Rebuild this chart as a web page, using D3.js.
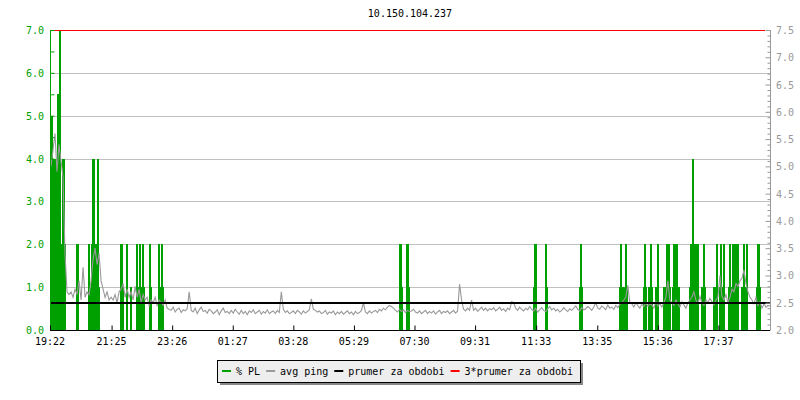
<!DOCTYPE html>
<html>
<head>
<meta charset="utf-8">
<script src="https://cdn.jsdelivr.net/npm/d3@7"></script>
<style>
  html, body { margin: 0; padding: 0; background: #fff; }
  svg { display: block; }
  text { font-family: "DejaVu Sans Mono", monospace; font-size: 10px; }
</style>
</head>
<body>
<svg id="chart" width="800" height="400"></svg>
<script>
// ---------------- DATA ----------------
const title = "10.150.104.237";
const startClock = "19:22";
const timeLabels = ["19:22","21:25","23:26","01:27","03:28","05:29","07:30","09:31","11:33","13:35","15:36","17:37"];
const leftTicks = [0,1,2,3,4,5,6,7];
const rightTicks = [2.0,2.5,3.0,3.5,4.0,4.5,5.0,5.5,6.0,6.5,7.0,7.5];
const legendLabels = ["% PL","avg ping","prumer za obdobi","3*prumer za obdobi"];

// packet loss (%), minutes from start
const plMinutes = [0,2,4,6,8,10,12,14,16,18,20,22,24,26,28,
  52,54,
  76,78,80,82,84,86,88,90,92,94,96,
  140,142,144,152,160,172,174,178,180,184,186,198,200,216,218,222,224,
  698,700,702,712,714,716,
  966,968,970,990,992,1058,1060,1062,
  1138,1140,1142,1146,1148,1150,1152,
  1186,1188,1190,1196,1198,1200,1202,1210,1212,1214,
  1226,1228,1230,1232,1234,1236,1238,
  1244,1246,1248,1250,1252,1254,1256,
  1278,1280,1282,1284,1286,1288,1290,1292,1294,
  1302,1304,1306,1308,
  1326,1328,1332,1338,1340,1342,1344,1346,
  1356,1358,1360,1362,1364,1366,1368,1370,1372,1374,
  1382,1384,1386,1388,1390,1392,
  1412,1414,1416,1418];
const plValues = [5,5,4,3.5,4,3,4,5.5,5.5,7,2,2,4,4,2,
  2,2,
  2,1,1,2,4,4,1,2,1,4,1,
  2,2,1,2,1,2,1,2,1,2,1,2,1,2,1,2,1,
  2,2,1,2,2,1,
  1,2,2,2,1,1,2,1,
  1,2,1,1,1,2,1,
  1,2,1,1,1,2,1,1,1,2,
  1,1,1,2,1,2,1,
  1,2,1,2,2,1,1,
  1,2,2,4,2,1,2,1,2,
  1,1,2,1,
  1,1,2,1,2,1,1,2,
  1,2,1,1,2,2,1,2,1,2,
  1,1,2,1,1,2,
  1,2,2,1];
const plStep = 4;

// avg ping (ms), one value every 4 minutes from start
const pingStep = 4;
const pingValues = [
  5.0,5.3,5.6,4.9,5.4,5.1,4.8,3.4,2.7,2.65,
  2.7,2.6,2.75,2.65,2.9,2.55,3.15,2.6,2.7,2.65,
  2.9,3.3,3.5,3.2,3.4,2.9,2.75,2.6,2.7,2.55,
  2.6,2.55,2.65,2.5,2.7,2.75,2.85,2.6,2.75,2.6,
  2.7,2.55,2.8,2.6,2.75,2.5,2.65,2.55,2.6,2.45,
  2.55,2.5,2.6,2.45,2.55,2.5,2.45,2.55,2.4,2.38,
  2.36,2.42,2.33,2.38,2.4,2.32,2.37,2.35,2.39,2.7,
  2.36,2.33,2.4,2.3,2.37,2.42,2.34,2.36,2.31,2.38,
  2.35,2.3,2.33,2.37,2.28,2.35,2.4,2.32,2.34,2.3,
  2.36,2.31,2.38,2.33,2.29,2.36,2.3,2.34,2.28,2.35,
  2.32,2.37,2.3,2.33,2.36,2.29,2.34,2.31,2.37,2.3,
  2.33,2.35,2.3,2.36,2.32,2.7,2.38,2.32,2.35,2.3,
  2.32,2.35,2.3,2.36,2.33,2.29,2.35,2.31,2.34,2.37,
  2.57,2.38,2.36,2.33,2.35,2.3,2.32,2.36,2.29,2.33,
  2.31,2.35,2.28,2.33,2.3,2.34,2.29,2.32,2.35,2.3,
  2.33,2.28,2.34,2.3,2.32,2.36,2.5,2.33,2.3,2.35,
  2.31,2.34,2.36,2.32,2.38,2.35,2.4,2.37,2.42,2.45,
  2.43,2.4,2.36,2.33,2.38,2.34,2.37,2.32,2.36,2.34,
  2.35,2.38,2.33,2.31,2.35,2.3,2.33,2.36,2.3,2.34,
  2.31,2.35,2.29,2.33,2.36,2.3,2.34,2.32,2.35,2.3,
  2.33,2.36,2.31,2.35,2.84,2.55,2.38,2.35,2.4,2.36,
  2.55,2.36,2.4,2.34,2.38,2.42,2.36,2.4,2.35,2.39,
  2.37,2.41,2.35,2.38,2.42,2.36,2.39,2.34,2.4,2.37,
  2.52,2.5,2.4,2.36,2.42,2.38,2.35,2.4,2.37,2.43,
  2.38,2.35,2.4,2.33,2.37,2.41,2.36,2.34,2.39,2.43,
  2.37,2.4,2.35,2.38,2.33,2.36,2.41,2.37,2.34,2.39,
  2.36,2.4,2.44,2.38,2.35,2.41,2.37,2.39,2.43,2.4,
  2.36,2.42,2.5,2.4,2.38,2.44,2.41,2.37,2.46,2.4,
  2.42,2.38,2.45,2.41,2.47,2.5,2.55,2.6,2.82,2.5,
  2.48,2.42,2.5,2.45,2.4,2.47,2.43,2.5,2.44,2.48,
  2.46,2.4,2.52,2.44,2.48,2.42,2.5,2.6,2.9,2.55,
  2.5,2.45,2.55,2.48,2.42,2.52,2.46,2.4,2.5,2.55,
  2.6,2.7,2.55,2.48,2.62,2.5,2.45,2.55,2.5,2.58,
  2.52,2.46,2.55,2.6,3.0,2.62,2.55,2.65,2.5,2.6,
  2.75,2.7,2.85,2.8,2.9,2.95,3.1,2.85,2.7,2.6,
  2.55,2.48,2.6,2.45,2.52,2.4,2.48,2.42,2.45,2.44
];
const avgPing = 2.5;
const totalMinutes = 1438;

// ---------------- CHART ----------------
const svg = d3.select("#chart");
const L = 50, R = 770, T = 30, B = 330;
const green = "#00a000";

const x = d3.scaleLinear().domain([0, totalMinutes]).range([L, R]);
const yL = d3.scaleLinear().domain([0, 7]).range([B, T]);
const yR = d3.scaleLinear().domain([2, 7.5]).range([B, T]);

const toMin = s => { const [h, m] = s.split(":").map(Number); return h * 60 + m; };
const start = toMin(startClock);
const offset = s => (toMin(s) - start + 1440) % 1440;

// title
svg.append("text").attr("x", (L + R) / 2).attr("y", 17)
  .attr("text-anchor", "middle").attr("fill", "#000").text(title);

// grid
svg.append("g").selectAll("line").data(leftTicks.filter(d => d > 0 && d < 7)).join("line")
  .attr("x1", L).attr("x2", R)
  .attr("y1", d => Math.round(yL(d)) + 0.5).attr("y2", d => Math.round(yL(d)) + 0.5)
  .attr("stroke", "#c0c0c0").attr("stroke-width", 1);

// PL bars
svg.append("g").attr("shape-rendering", "crispEdges").selectAll("rect")
  .data(plMinutes.map((t, i) => ({ t, v: plValues[i] }))).join("rect")
  .attr("x", d => Math.floor(x(d.t)))
  .attr("width", d => Math.round(x(d.t + plStep) - x(d.t)))
  .attr("y", d => Math.round(yL(d.v)))
  .attr("height", d => B - Math.round(yL(d.v)))
  .attr("fill", green);

// ping line
const pingData = pingValues.map((v, i) => ({ t: i * pingStep, v }));
svg.append("path").datum(pingData)
  .attr("d", d3.line().x(d => x(d.t) + 1).y(d => yR(d.v)))
  .attr("fill", "none").attr("stroke", "#999").attr("stroke-width", 1.1);

// average lines
svg.append("line").attr("x1", L).attr("x2", R)
  .attr("y1", Math.round(yR(avgPing))).attr("y2", Math.round(yR(avgPing)))
  .attr("stroke", "#000").attr("stroke-width", 2).attr("shape-rendering", "crispEdges");
svg.append("line").attr("x1", L).attr("x2", R - 5)
  .attr("y1", Math.round(yR(avgPing * 3)) + 0.5).attr("y2", Math.round(yR(avgPing * 3)) + 0.5)
  .attr("stroke", "#f00").attr("stroke-width", 1);

// left axis
const leftAxis = d3.axisRight(yL).tickValues(d3.range(0, 7.01, 0.5)).tickSize(4)
  .tickFormat("");
const gl = svg.append("g").attr("transform", `translate(${L + 0.5},0)`).call(leftAxis);
gl.select(".domain").attr("stroke", green).attr("d", `M0,${T}V${B}`);
gl.selectAll(".tick line").attr("stroke", green);
svg.append("g").selectAll("text").data(leftTicks).join("text")
  .attr("x", 44).attr("y", d => yL(d) + 4)
  .attr("text-anchor", "end").attr("fill", green).text(d => d.toFixed(1));

// right axis
const rightAxis = d3.axisLeft(yR).tickValues(d3.range(20, 76, 1).map(d => d / 10))
  .tickSize(3).tickFormat("");
const gr = svg.append("g").attr("transform", `translate(${R + 0.5},0)`).call(rightAxis);
gr.select(".domain").attr("stroke", "#999").attr("d", `M0,${T}V${B}`);
gr.selectAll(".tick line").attr("stroke", "#999")
  .attr("x2", d => (Math.round(d * 10) % 5 === 0) ? -5 : -3);
svg.append("g").selectAll("text").data(rightTicks).join("text")
  .attr("x", 776).attr("y", d => yR(d) + 4)
  .attr("text-anchor", "start").attr("fill", "#999").text(d => d.toFixed(1));

// bottom axis
const bottomAxis = d3.axisTop(x).tickValues(timeLabels.map(offset)).tickSize(5).tickFormat("");
const gb = svg.append("g").attr("transform", `translate(0,${B + 0.5})`).call(bottomAxis);
gb.select(".domain").attr("stroke", "#000").attr("d", `M${L},0H${R}`);
gb.selectAll(".tick line").attr("stroke", "#000");
svg.append("g").selectAll("text").data(timeLabels).join("text")
  .attr("x", d => x(offset(d))).attr("y", 345)
  .attr("text-anchor", "middle").attr("fill", "#000").text(d => d);

// legend
const legendColors = [green, "#999", "#000", "#f00"];
const lg = svg.append("g");
const boxX = 217, boxY = 360, boxW = 363, boxH = 22;
lg.append("rect").attr("x", boxX + 3).attr("y", boxY + 3).attr("width", boxW).attr("height", boxH)
  .attr("fill", "#888");
lg.append("rect").attr("x", boxX + 0.5).attr("y", boxY + 0.5).attr("width", boxW).attr("height", boxH)
  .attr("fill", "#eeeeee").attr("stroke", "#000");
let cx = 222;
legendLabels.forEach((lab, i) => {
  lg.append("rect").attr("x", cx).attr("y", 370).attr("width", 9).attr("height", 2)
    .attr("fill", legendColors[i]);
  const t = lg.append("text").attr("x", cx + 14).attr("y", 375).attr("fill", "#000").text(lab);
  const w = t.node().getComputedTextLength();
  cx = cx + 14 + w + 6;
});
</script>
</body>
</html>
